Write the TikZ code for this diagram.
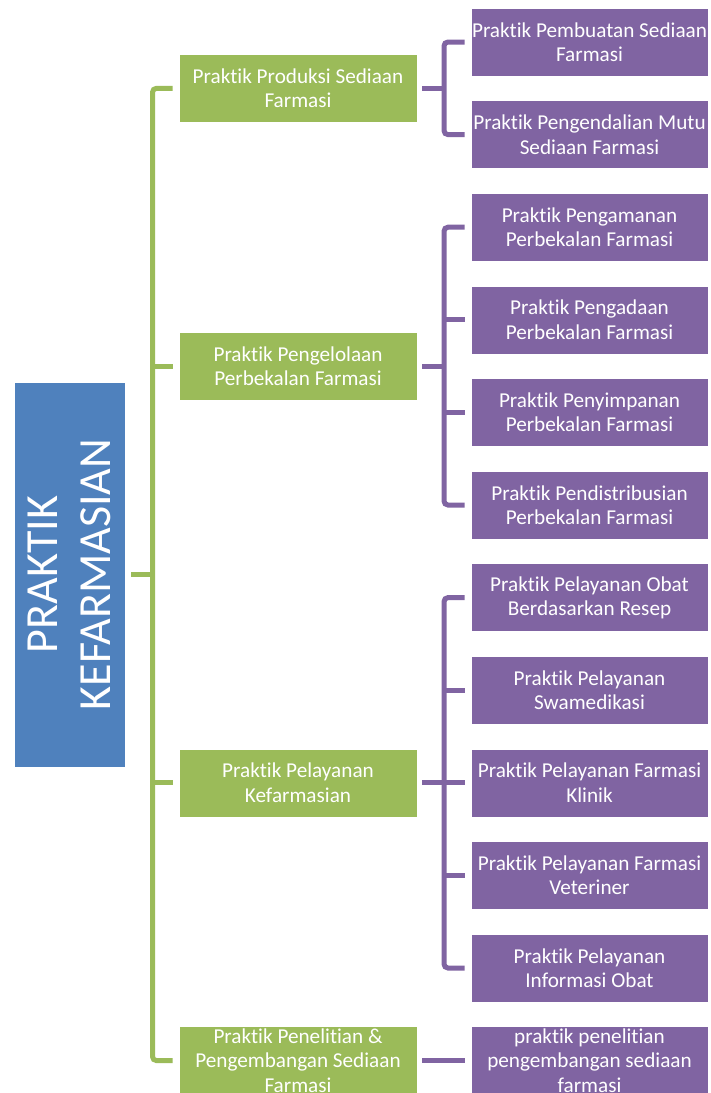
\documentclass[tikz,border=0pt]{standalone}
\usepackage{fontspec}
\setmainfont{Carlito}[Ligatures={NoCommon,NoRare,NoDiscretionary}]
\definecolor{kgreen}{HTML}{9BBB59}
\definecolor{kpurple}{HTML}{8064A2}
\definecolor{kblue}{HTML}{4F81BD}
\tikzset{
  basebox/.style={draw=white, line width=0.6pt, text=white, inner sep=0pt, align=center,
    font=\fontsize{21.2}{24.5}\selectfont},
  gbox/.style={basebox, fill=kgreen, minimum width=238pt, minimum height=68pt},
  pbox/.style={basebox, fill=kpurple, minimum width=237pt, minimum height=68pt},
  mainbox/.style={draw=white, line width=0.6pt, fill=kblue, minimum width=111pt, minimum height=385pt, inner sep=0pt},
  maintext/.style={text=white, align=center, rotate=90, inner sep=0pt,
    font=\fontsize{46}{53}\selectfont},
  gline/.style={draw=kgreen, line width=5pt},
  pline/.style={draw=kpurple, line width=5pt},
  brk/.style={rounded corners=4pt}
}
\begin{document}
\begin{tikzpicture}[x=1pt,y=-1pt]
\useasboundingbox (0,0) rectangle (710,1093);
\fill[white] (0,0) rectangle (710,1093);
\clip (0,0) rectangle (710,1093);

% main
\node[mainbox] (main) at (69.5,574.5) {};
\node[maintext] (maintxt) at (main.center) {PRAKTIK\\KEFARMASIAN};

% green boxes
\node[gbox] (g1) at (298,88.3) {Praktik Produksi Sediaan\\Farmasi};
\node[gbox] (g2) at (298,366.1) {Praktik Pengelolaan\\Perbekalan Farmasi};
\node[gbox] (g3) at (298,782.8) {Praktik Pelayanan\\Kefarmasian};
\node[gbox] (g4) at (298,1060.6) {Praktik Penelitian \&\\Pengembangan Sediaan\\Farmasi};

% purple boxes
\node[pbox] (p1) at (589.5,42) {Praktik Pembuatan Sediaan\\Farmasi};
\node[pbox] (p2) at (589.5,134.6) {Praktik Pengendalian Mutu\\Sediaan Farmasi};
\node[pbox] (p3) at (589.5,227.2) {Praktik Pengamanan\\Perbekalan Farmasi};
\node[pbox] (p4) at (589.5,319.8) {Praktik Pengadaan\\Perbekalan Farmasi};
\node[pbox] (p5) at (589.5,412.4) {Praktik Penyimpanan\\Perbekalan Farmasi};
\node[pbox] (p6) at (589.5,505) {Praktik Pendistribusian\\Perbekalan Farmasi};
\node[pbox] (p7) at (589.5,597.6) {Praktik Pelayanan Obat\\Berdasarkan Resep};
\node[pbox] (p8) at (589.5,690.2) {Praktik Pelayanan\\Swamedikasi};
\node[pbox] (p9) at (589.5,782.8) {Praktik Pelayanan Farmasi\\Klinik};
\node[pbox] (p10) at (589.5,875.4) {Praktik Pelayanan Farmasi\\Veteriner};
\node[pbox] (p11) at (589.5,968) {Praktik Pelayanan\\Informasi Obat};
\node[pbox] (p12) at (589.5,1060.6) {praktik penelitian\\pengembangan sediaan\\farmasi};

% green bracket
\coordinate (gs) at (152.5,574.5);
\draw[gline] ([xshift=6pt]main.east) -- (gs);
\draw[gline,brk] ([xshift=-6pt]g1.west) -| (gs) |- ([xshift=-6pt]g4.west);
\draw[gline] ([xshift=-6pt]g2.west) -- (gs |- g2.west);
\draw[gline] ([xshift=-6pt]g3.west) -- (gs |- g3.west);

% purple bracket 1
\coordinate (s1) at (444,88.3);
\draw[pline] ([xshift=5pt]g1.east) -- (s1);
\draw[pline,brk] ([xshift=-6pt]p1.west) -| (s1) |- ([xshift=-6pt]p2.west);

% purple bracket 2
\coordinate (s2) at (444,366.1);
\draw[pline] ([xshift=5pt]g2.east) -- (s2);
\draw[pline,brk] ([xshift=-6pt]p3.west) -| (s2) |- ([xshift=-6pt]p6.west);
\draw[pline] ([xshift=-6pt]p4.west) -- (s2 |- p4.west);
\draw[pline] ([xshift=-6pt]p5.west) -- (s2 |- p5.west);

% purple bracket 3
\coordinate (s3) at (444,782.8);
\draw[pline] ([xshift=5pt]g3.east) -- ([xshift=-6pt]p9.west);
\draw[pline,brk] ([xshift=-6pt]p7.west) -| (s3) |- ([xshift=-6pt]p11.west);
\draw[pline] ([xshift=-6pt]p8.west) -- (s3 |- p8.west);
\draw[pline] ([xshift=-6pt]p10.west) -- (s3 |- p10.west);

% purple 4
\draw[pline] ([xshift=5pt]g4.east) -- ([xshift=-6pt]p12.west);
\end{tikzpicture}
\end{document}
